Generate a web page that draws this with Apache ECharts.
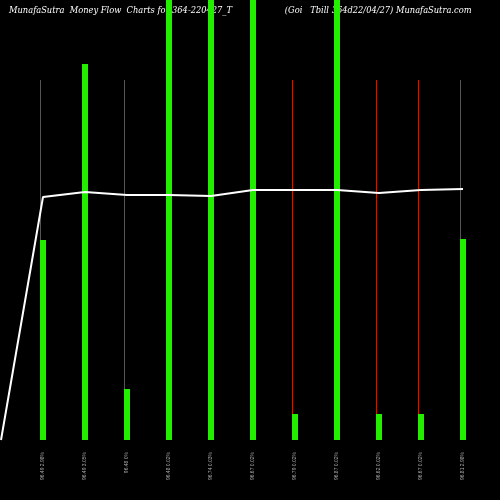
<!DOCTYPE html><html><head><meta charset="utf-8"><script src="https://cdn.jsdelivr.net/npm/echarts@6/dist/echarts.min.js"></script></head><body style="margin:0;background:#000"><div id="c" style="width:500px;height:500px"></div><script>
const categories=["","96.49 2.98%","96.49 3.05%","96.48 0%","96.48 0.02%","96.74 0.03%","96.67 0.02%","96.79 0.02%","96.87 0.02%","96.62 0.02%","96.67 0.02%","96.81 2.98%"];
const volumes=[null,200,376,51,460,460,460,26,460,26,26,201];
const wicks=[null,360,360,360,360,360,360,360,360,360,360,360];
const wickColors=["#555","#555","#555","#555","#555","#555","#555","#b32400","#555","#b32400","#b32400","#555"];
const price=[0,243,248,245,245,244,250,250,250,247,250,251];
const ch=echarts.init(document.getElementById('c'));
ch.setOption({backgroundColor:'#000',animation:false,
title:{z:0,zlevel:0,text:'MunafaSutra  Money Flow  Charts for 364-220427_T                    (Goi   Tbill 364d22/04/27) MunafaSutra.com',left:4,top:2,textStyle:{color:'#fff',fontSize:8.3,fontWeight:'normal',fontFamily:'DejaVu Serif',fontStyle:'italic'}},
grid:{left:1,right:37,top:0,bottom:60},
xAxis:{type:'category',data:categories,boundaryGap:false,axisLine:{show:false},axisTick:{show:false},axisLabel:{rotate:90,color:'#aaa',fontSize:5,interval:0,margin:12}},
yAxis:{type:'value',min:0,max:440,show:false},
series:[
{type:'bar',z:3,data:wicks.map((v,i)=>({value:v,itemStyle:{color:wickColors[i]}})),barWidth:1},
{type:'bar',z:4,data:volumes,barWidth:6,barGap:'-100%',itemStyle:{color:'#22ee00'}},
{type:'line',z:5,data:price,symbol:'none',lineStyle:{color:'#fff',width:2}}]});
</script></body></html>
